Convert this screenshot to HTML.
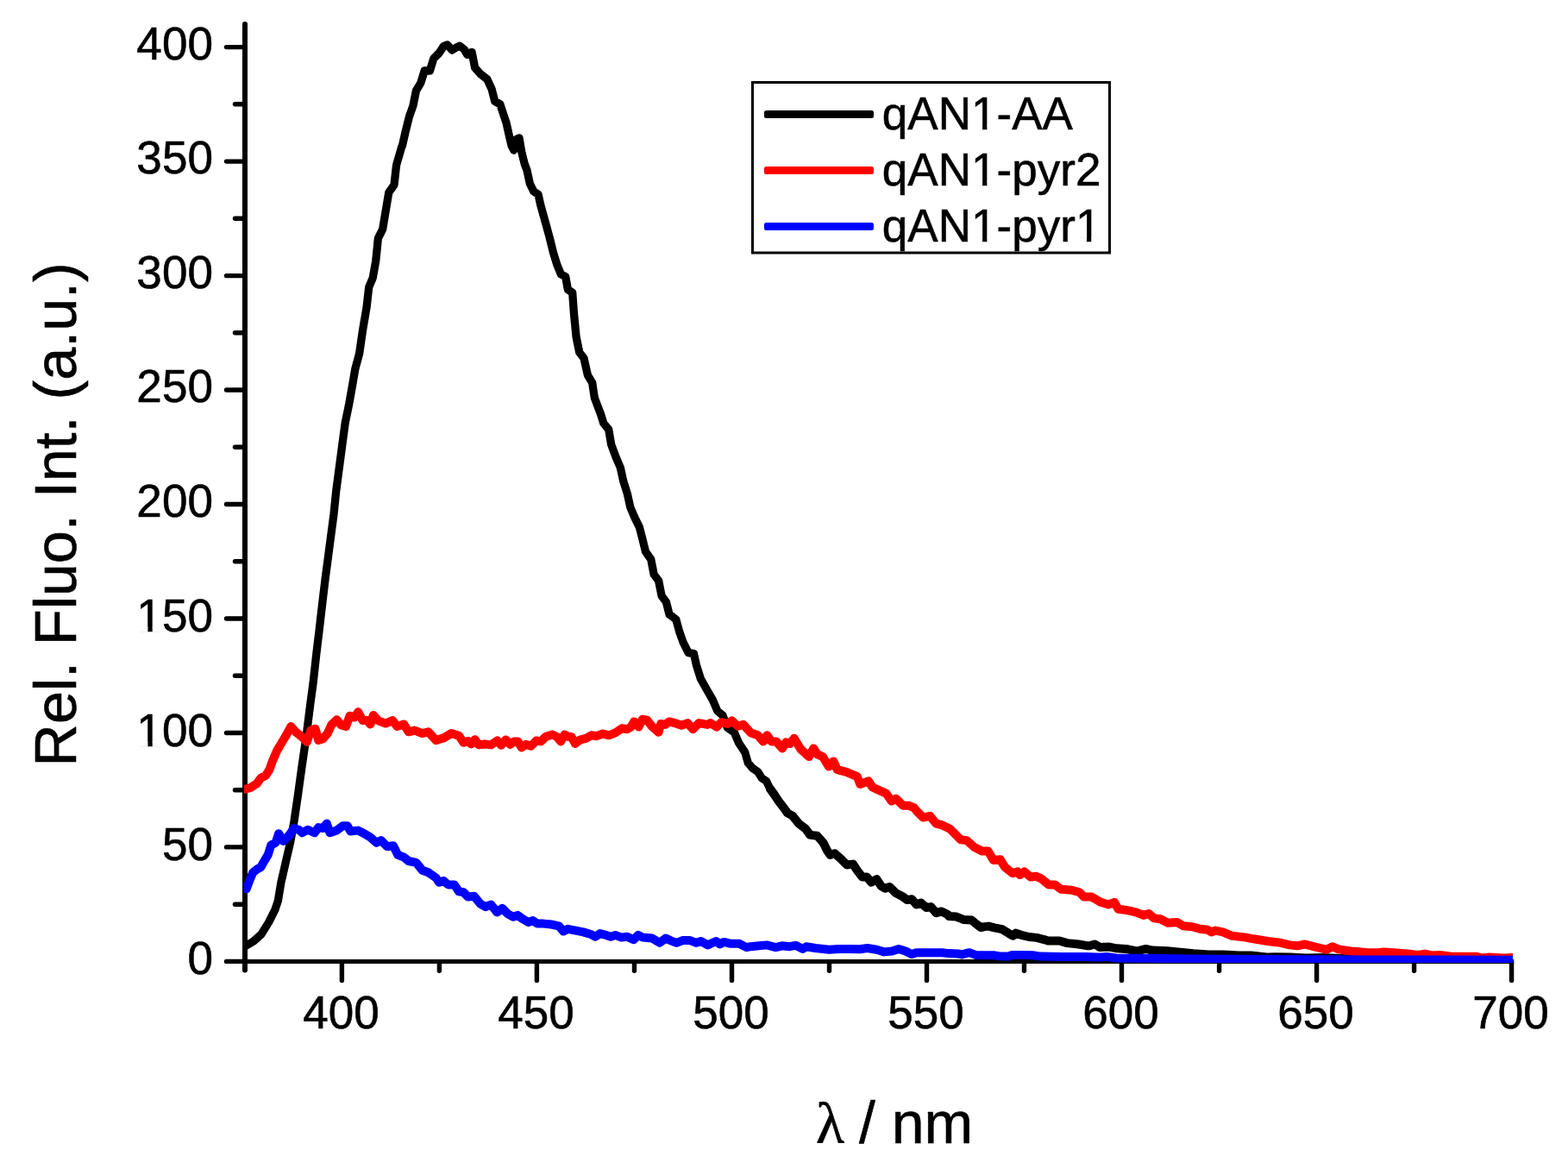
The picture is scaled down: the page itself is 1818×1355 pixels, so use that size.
<!DOCTYPE html>
<html lang="en"><head><meta charset="utf-8">
<style>
html,body{margin:0;padding:0;background:#fff;}
body{width:1818px;height:1355px;overflow:hidden;}
svg{display:block;}
text{font-family:"Liberation Sans",Arial,Helvetica,sans-serif;fill:#000;stroke:#000;stroke-width:0.6px;stroke-linejoin:round;}
.tk{font-size:53.33px;}
.tt{font-size:68px;}
.sym{font-family:"Liberation Serif","DejaVu Serif",serif;}
</style></head>
<body>
<svg width="1818" height="1355" viewBox="0 0 1818 1355">
<rect x="0" y="0" width="1818" height="1355" fill="#fff"/>
<g stroke="#000" fill="none" stroke-linecap="round">
<line x1="284.0" y1="28" x2="284.0" y2="1124.5" stroke-width="6"/>
<line x1="284.0" y1="1114.4" x2="1755.1" y2="1114.4" stroke-width="5" stroke-linecap="butt"/>
<line x1="262.5" y1="1114.4" x2="284.0" y2="1114.4" stroke-width="5.4"/>
<line x1="272.5" y1="1048.2" x2="284.0" y2="1048.2" stroke-width="5.4"/>
<line x1="262.5" y1="981.9" x2="284.0" y2="981.9" stroke-width="5.4"/>
<line x1="272.5" y1="915.7" x2="284.0" y2="915.7" stroke-width="5.4"/>
<line x1="262.5" y1="849.5" x2="284.0" y2="849.5" stroke-width="5.4"/>
<line x1="272.5" y1="783.2" x2="284.0" y2="783.2" stroke-width="5.4"/>
<line x1="262.5" y1="717.0" x2="284.0" y2="717.0" stroke-width="5.4"/>
<line x1="272.5" y1="650.7" x2="284.0" y2="650.7" stroke-width="5.4"/>
<line x1="262.5" y1="584.5" x2="284.0" y2="584.5" stroke-width="5.4"/>
<line x1="272.5" y1="518.3" x2="284.0" y2="518.3" stroke-width="5.4"/>
<line x1="262.5" y1="452.0" x2="284.0" y2="452.0" stroke-width="5.4"/>
<line x1="272.5" y1="385.8" x2="284.0" y2="385.8" stroke-width="5.4"/>
<line x1="262.5" y1="319.6" x2="284.0" y2="319.6" stroke-width="5.4"/>
<line x1="272.5" y1="253.3" x2="284.0" y2="253.3" stroke-width="5.4"/>
<line x1="262.5" y1="187.1" x2="284.0" y2="187.1" stroke-width="5.4"/>
<line x1="272.5" y1="120.8" x2="284.0" y2="120.8" stroke-width="5.4"/>
<line x1="262.5" y1="54.6" x2="284.0" y2="54.6" stroke-width="5.4"/>
<line x1="396.4" y1="1114.9" x2="396.4" y2="1136.5" stroke-width="5.4"/>
<line x1="509.4" y1="1114.9" x2="509.4" y2="1125.3" stroke-width="5.4"/>
<line x1="622.4" y1="1114.9" x2="622.4" y2="1136.5" stroke-width="5.4"/>
<line x1="735.5" y1="1114.9" x2="735.5" y2="1125.3" stroke-width="5.4"/>
<line x1="848.5" y1="1114.9" x2="848.5" y2="1136.5" stroke-width="5.4"/>
<line x1="961.5" y1="1114.9" x2="961.5" y2="1125.3" stroke-width="5.4"/>
<line x1="1074.5" y1="1114.9" x2="1074.5" y2="1136.5" stroke-width="5.4"/>
<line x1="1187.5" y1="1114.9" x2="1187.5" y2="1125.3" stroke-width="5.4"/>
<line x1="1300.5" y1="1114.9" x2="1300.5" y2="1136.5" stroke-width="5.4"/>
<line x1="1413.6" y1="1114.9" x2="1413.6" y2="1125.3" stroke-width="5.4"/>
<line x1="1526.6" y1="1114.9" x2="1526.6" y2="1136.5" stroke-width="5.4"/>
<line x1="1639.6" y1="1114.9" x2="1639.6" y2="1125.3" stroke-width="5.4"/>
<line x1="1752.6" y1="1114.9" x2="1752.6" y2="1136.5" stroke-width="5.4"/>
</g>
<defs><clipPath id="plot"><rect x="283.0" y="0" width="1471.0" height="1115.9"/></clipPath></defs>
<g fill="none" stroke-linejoin="round" stroke-linecap="round" clip-path="url(#plot)">
<path stroke="#000000" stroke-width="9.3" d="M285.2 1096.3 L294.0 1091.0 L302.9 1083.0 L311.7 1068.9 L318.8 1054.7 L322.4 1044.1 L325.9 1022.8 L331.2 999.8 L336.5 976.8 L341.0 952.0 L345.4 921.9 L349.8 890.0 L355.1 853.7 L359.5 818.2 L363.1 791.7 L366.6 759.8 L370.2 729.7 L373.7 699.6 L377.3 669.5 L379.9 650.0 L383.5 622.5 L387.0 596.0 L389.7 569.4 L393.2 542.8 L396.7 516.3 L400.3 489.7 L404.7 468.4 L408.8 445.4 L411.8 427.7 L416.6 410.0 L420.6 382.5 L425.1 356.0 L427.7 332.9 L432.2 322.3 L435.7 302.8 L438.4 276.3 L443.7 265.6 L447.2 244.4 L450.8 223.1 L457.0 214.3 L459.6 191.3 L465.8 170.0 L466.5 168.8 L470.1 152.8 L474.5 135.1 L478.9 122.7 L482.5 105.0 L487.8 96.2 L492.2 82.0 L498.4 82.0 L502.8 67.8 L509.0 61.6 L514.3 53.6 L518.8 51.9 L524.1 58.1 L528.5 55.4 L532.9 53.3 L538.2 57.2 L541.8 63.4 L547.1 60.4 L550.6 78.4 L556.8 85.5 L564.8 91.7 L570.1 103.2 L573.7 117.4 L579.9 120.9 L583.4 131.6 L587.0 142.2 L590.5 158.1 L593.1 168.8 L595.8 174.1 L598.5 161.7 L602.0 159.9 L604.7 175.8 L608.2 190.0 L610.9 197.1 L614.4 213.0 L618.8 221.9 L624.1 225.4 L626.8 237.8 L633.0 260.0 L637.2 275.4 L641.6 293.1 L646.0 307.3 L650.4 317.9 L655.7 320.6 L658.4 335.6 L663.7 339.2 L665.5 364.0 L668.1 390.5 L671.7 408.2 L677.0 415.3 L681.4 434.8 L686.7 443.7 L689.4 461.4 L696.5 480.0 L699.8 490.6 L705.7 497.7 L708.7 515.4 L714.0 529.6 L719.3 542.0 L722.8 557.9 L727.3 572.1 L730.8 588.0 L736.1 600.4 L741.4 611.1 L745.0 625.2 L748.5 639.4 L754.7 648.2 L758.2 666.0 L763.6 673.0 L767.1 690.7 L772.4 697.8 L776.0 712.0 L783.9 718.2 L787.6 731.9 L792.0 744.3 L798.2 756.7 L804.4 757.6 L807.4 770.8 L812.4 786.8 L819.4 799.2 L826.5 811.6 L831.8 824.0 L838.0 829.3 L843.3 843.4 L851.3 848.8 L856.6 861.2 L863.7 871.8 L867.3 884.2 L872.6 890.4 L878.8 894.8 L883.2 901.9 L888.5 905.4 L892.9 914.3 L897.4 920.5"/>
<path stroke="#000000" stroke-width="10" d="M892.9 914.3 L897.4 920.5 L902.7 928.5 L911.5 940.0 L912.9 942.2 L919.1 945.8 L926.2 954.6 L934.1 960.8 L939.4 967.9 L947.4 968.8 L954.5 976.8 L958.9 985.6 L962.5 990.9 L967.8 989.2 L974.9 995.4 L981.9 1002.5 L989.0 1001.6 L994.3 1009.5 L999.7 1016.5 L1005.0 1016.5 L1010.3 1022.7 L1016.5 1019.2 L1021.8 1027.2 L1026.2 1029.8 L1031.5 1028.0 L1038.6 1035.1 L1045.7 1038.7 L1051.9 1043.1 L1057.2 1042.2 L1062.5 1048.4 L1067.8 1046.6 L1074.0 1052.0 L1079.3 1051.1 L1085.5 1058.2 L1091.7 1056.4 L1098.8 1059.9 L1100.0 1061.9 L1108.9 1062.6 L1117.7 1066.1 L1126.6 1066.6 L1131.9 1071.0 L1137.2 1075.0 L1141.6 1074.1 L1146.0 1073.6 L1153.1 1075.4 L1162.0 1077.2 L1169.1 1081.6 L1174.4 1084.7 L1177.9 1081.6 L1184.1 1083.8 L1193.0 1086.0 L1201.8 1086.9 L1210.7 1089.1 L1215.1 1090.5 L1228.4 1090.5 L1237.2 1093.1 L1250.5 1094.5 L1260.0 1096.2 L1263.1 1096.3 L1269.3 1094.5 L1275.5 1098.1 L1286.1 1097.6 L1295.0 1099.3 L1305.6 1099.9 L1318.0 1102.5 L1328.6 1099.9 L1335.7 1101.6 L1353.4 1102.2 L1365.8 1103.4 L1383.5 1105.2 L1401.2 1106.4 L1418.9 1106.4 L1436.6 1107.5 L1450.8 1107.5 L1471.0 1109.6 L1478.7 1109.2 L1496.4 1109.6 L1514.1 1110.5 L1531.8 1110.1 L1567.3 1111.4 L1638.1 1112.3 L1753.2 1112.8 L1762.0 1112.8"/>
<path stroke="#ff0000" stroke-width="10" d="M284.2 914.8 L290.4 913.0 L297.4 908.6 L302.8 901.5 L308.1 898.9 L312.5 891.8 L316.0 882.0 L321.4 869.6 L326.7 860.7 L332.0 851.9 L337.3 842.1 L342.6 848.3 L349.7 853.7 L355.9 859.9 L360.3 846.6 L365.6 844.8 L369.2 858.1 L374.5 856.3 L379.8 850.1 L384.2 840.4 L390.4 834.2 L395.7 840.4 L401.1 842.1 L405.5 829.8 L410.8 831.5 L415.2 825.3 L420.5 835.1 L425.8 835.1 L429.4 839.5 L432.9 828.9 L438.2 835.1 L447.1 838.6 L455.1 835.1 L460.4 842.1 L468.3 839.5 L473.7 848.3 L480.7 846.6 L489.6 850.1 L496.7 848.3 L505.5 858.1 L514.4 855.4 L523.2 850.1 L532.1 852.8 L537.4 860.7 L542.7 859.0 L546.3 862.5 L550.7 857.2 L555.1 863.4 L562.2 862.5 L569.3 863.4 L576.7 858.5 L581.1 863.8 L586.4 857.6 L591.7 862.9 L596.2 859.4 L600.6 859.4 L604.7 866.5 L609.4 862.9 L615.6 864.7 L621.8 858.5 L627.1 859.4 L632.5 854.1 L640.4 851.4 L645.7 854.1 L650.2 859.4 L654.6 851.4 L659.0 854.1 L662.6 854.1 L667.0 862.0 L672.3 857.6 L679.4 855.8 L685.6 852.3 L691.8 853.2 L698.9 850.5 L706.0 852.3 L713.0 849.6 L721.0 844.3 L727.2 845.2 L731.6 842.6 L735.2 836.4 L740.5 842.6 L744.9 833.7 L750.2 834.6 L756.4 842.6 L763.5 848.8 L766.2 839.0 L771.5 839.9 L775.9 836.4 L782.1 838.1 L790.1 840.8 L797.2 838.1 L803.4 845.2 L810.4 838.1 L820.0 839.9 L823.8 838.1 L830.8 842.6 L836.2 837.2 L843.2 839.0 L848.5 835.5 L855.6 841.7 L861.8 839.9 L870.7 849.6 L878.7 852.3 L884.9 859.4 L889.3 852.3 L894.6 859.4 L899.9 859.4 L907.0 867.4 L911.4 860.3 L915.8 862.0 L920.8 855.8 L928.2 868.2 L938.0 877.1 L943.3 867.4 L947.7 874.4 L953.9 877.1 L961.0 888.6 L966.3 882.4 L970.7 892.1 L981.4 894.8 L993.8 900.1 L997.3 909.0 L1007.0 905.4 L1011.5 912.5 L1019.4 916.1 L1027.4 919.6 L1033.6 928.5 L1038.9 925.8 L1046.9 933.8 L1054.0 933.8 L1060.0 936.4 L1062.4 939.6 L1070.4 947.6 L1078.3 945.8 L1085.4 954.6 L1092.5 956.4 L1101.4 960.8 L1113.8 973.2 L1120.9 974.1 L1129.7 982.1 L1138.6 986.5 L1145.6 986.5 L1151.8 997.1 L1159.8 996.3 L1165.1 1005.1 L1174.0 1012.2 L1180.0 1010.4 L1182.4 1014.0 L1187.7 1010.4 L1194.8 1016.6 L1201.0 1015.7 L1207.2 1018.4 L1216.0 1025.5 L1223.1 1025.5 L1230.2 1030.8 L1242.6 1031.7 L1251.5 1034.3 L1256.8 1039.6 L1265.6 1039.6 L1276.3 1045.8 L1285.1 1048.5 L1292.2 1045.8 L1296.6 1053.8 L1304.6 1054.7 L1317.0 1057.4 L1325.8 1060.9 L1332.0 1059.1 L1338.2 1064.4 L1345.3 1065.3 L1354.2 1069.8 L1364.8 1068.9 L1371.9 1073.3 L1382.5 1074.2 L1391.4 1076.8 L1400.2 1077.7 L1404.7 1080.4 L1409.1 1078.6 L1417.9 1080.4 L1428.6 1084.8 L1444.5 1086.6 L1453.4 1088.3 L1470.0 1091.0 L1484.8 1092.8 L1495.4 1095.4 L1504.3 1096.3 L1513.1 1094.5 L1522.0 1096.8 L1530.8 1099.0 L1537.9 1100.7 L1545.0 1097.2 L1552.1 1100.4 L1566.3 1102.5 L1584.0 1103.9 L1598.1 1104.3 L1605.2 1103.4 L1619.4 1104.6 L1637.1 1106.1 L1644.2 1106.9 L1652.1 1105.7 L1660.1 1107.5 L1669.0 1106.9 L1681.4 1108.4 L1699.1 1108.7 L1711.5 1108.7 L1718.6 1110.5 L1725.6 1109.6 L1743.4 1110.5 L1752.2 1110.1 L1762.0 1110.1"/>
<path stroke="#0000ff" stroke-width="10" d="M285.6 1030.4 L289.5 1020.3 L293.2 1011.3 L297.8 1007.6 L302.5 1005.0 L305.4 999.8 L310.7 990.9 L314.3 979.4 L319.6 976.8 L323.1 966.2 L328.4 975.0 L335.5 967.9 L340.8 960.0 L346.2 961.7 L350.6 965.3 L356.8 961.7 L364.7 965.3 L369.2 959.1 L374.5 960.0 L378.9 954.6 L382.5 965.3 L390.4 962.6 L397.5 957.3 L402.8 957.3 L406.4 963.5 L415.2 962.6 L422.3 966.2 L429.4 970.6 L436.5 976.8 L441.8 974.1 L448.9 981.2 L456.0 980.3 L461.3 990.9 L468.3 993.6 L473.7 998.0 L482.5 999.8 L489.6 1008.7 L496.7 1011.3 L505.5 1017.5 L509.1 1022.8 L514.4 1021.1 L519.7 1025.5 L526.8 1025.5 L532.1 1033.4 L537.4 1034.3 L542.7 1039.6 L549.8 1038.8 L556.9 1047.6 L563.1 1051.2 L569.3 1048.5 L576.2 1057.4 L582.4 1052.9 L588.6 1059.1 L594.8 1062.7 L600.1 1060.9 L606.3 1065.3 L612.5 1068.9 L617.8 1067.1 L623.1 1070.6 L630.2 1070.6 L639.1 1071.5 L647.9 1073.3 L653.2 1079.5 L658.5 1076.8 L667.4 1078.6 L676.3 1080.4 L685.1 1083.0 L690.4 1085.7 L695.7 1082.1 L702.8 1083.9 L708.1 1085.7 L713.4 1083.9 L720.5 1086.6 L726.7 1085.7 L734.7 1089.2 L740.0 1083.9 L745.3 1086.6 L756.0 1087.5 L764.8 1092.8 L771.9 1087.5 L777.2 1090.1 L784.3 1092.8 L791.4 1090.1 L800.2 1090.1 L807.3 1092.8 L812.6 1091.0 L820.6 1095.4 L830.3 1091.0 L834.8 1094.5 L839.2 1091.9 L846.3 1093.7 L856.9 1093.7 L865.7 1098.1 L870.0 1097.2 L880.0 1096.3 L888.9 1095.4 L899.5 1098.1 L906.6 1096.3 L915.4 1097.2 L922.5 1095.8 L930.5 1099.9 L934.9 1097.2 L945.5 1099.0 L961.5 1100.7 L972.1 1099.9 L986.3 1099.9 L996.9 1100.2 L1005.7 1099.0 L1016.4 1100.7 L1025.2 1103.4 L1034.1 1102.5 L1042.0 1099.9 L1050.0 1102.5 L1057.1 1106.1 L1062.4 1104.3 L1074.8 1104.3 L1092.5 1104.3 L1100.0 1105.1 L1110.6 1105.5 L1115.1 1106.4 L1123.9 1104.2 L1131.0 1106.9 L1153.1 1107.3 L1157.6 1108.2 L1169.1 1108.6 L1173.5 1107.1 L1188.5 1107.1 L1197.4 1107.3 L1206.3 1108.6 L1232.8 1108.9 L1260.0 1109.1 L1276.3 1109.6 L1283.3 1108.9 L1294.0 1110.5 L1311.7 1110.8 L1347.1 1111.0 L1382.5 1111.4 L1417.9 1111.7 L1470.0 1112.1 L1530.8 1112.3 L1601.7 1112.4 L1672.5 1112.6 L1752.2 1112.8 L1762.0 1112.8"/>
</g>
<rect x="872.5" y="95.5" width="414" height="197.5" fill="#fff" stroke="#000" stroke-width="3"/>
<rect x="886" y="128" width="127" height="9" rx="2.5" ry="2.5" fill="#000000"/>
<rect x="886" y="193" width="127" height="9" rx="2.5" ry="2.5" fill="#ff0000"/>
<rect x="886" y="258" width="127" height="9" rx="2.5" ry="2.5" fill="#0000ff"/>
<g transform="translate(1022.80 150.20) scale(0.995 1)"><text class="tk">qAN1-AA</text><rect x="106.76" y="-5.29" width="10.09" height="6.07" fill="#fff"/><rect x="122.17" y="-5.29" width="9.67" height="6.07" fill="#fff"/></g>
<g transform="translate(1022.80 215.10) scale(0.995 1)"><text class="tk">qAN1-pyr2</text><rect x="106.76" y="-5.29" width="10.09" height="6.07" fill="#fff"/><rect x="122.17" y="-5.29" width="9.67" height="6.07" fill="#fff"/></g>
<g transform="translate(1022.80 280.40) scale(0.995 1)"><text class="tk">qAN1-pyr1</text><rect x="106.76" y="-5.29" width="10.09" height="6.07" fill="#fff"/><rect x="122.17" y="-5.29" width="9.67" height="6.07" fill="#fff"/><rect x="228.27" y="-5.29" width="10.09" height="6.07" fill="#fff"/><rect x="243.67" y="-5.29" width="9.67" height="6.07" fill="#fff"/></g>
<text class="tk" text-anchor="end" transform="translate(246.90 1129.00) scale(0.995 1)">0</text>
<text class="tk" text-anchor="end" transform="translate(246.90 997.00) scale(0.995 1)">50</text>
<g transform="translate(246.90 865.00) scale(0.995 1)"><text class="tk" text-anchor="end">100</text><rect x="-85.96" y="-5.29" width="10.09" height="6.07" fill="#fff"/><rect x="-70.55" y="-5.29" width="9.67" height="6.07" fill="#fff"/></g>
<g transform="translate(246.90 732.00) scale(0.995 1)"><text class="tk" text-anchor="end">150</text><rect x="-85.96" y="-5.29" width="10.09" height="6.07" fill="#fff"/><rect x="-70.55" y="-5.29" width="9.67" height="6.07" fill="#fff"/></g>
<text class="tk" text-anchor="end" transform="translate(246.90 599.00) scale(0.995 1)">200</text>
<text class="tk" text-anchor="end" transform="translate(246.90 466.00) scale(0.995 1)">250</text>
<text class="tk" text-anchor="end" transform="translate(246.90 334.00) scale(0.995 1)">300</text>
<text class="tk" text-anchor="end" transform="translate(246.90 201.00) scale(0.995 1)">350</text>
<text class="tk" text-anchor="end" transform="translate(246.90 69.00) scale(0.995 1)">400</text>
<text class="tk" text-anchor="middle" transform="translate(395.40 1192.00) scale(0.995 1)">400</text>
<text class="tk" text-anchor="middle" transform="translate(621.43 1192.00) scale(0.995 1)">450</text>
<text class="tk" text-anchor="middle" transform="translate(847.47 1192.00) scale(0.995 1)">500</text>
<text class="tk" text-anchor="middle" transform="translate(1073.50 1192.00) scale(0.995 1)">550</text>
<text class="tk" text-anchor="middle" transform="translate(1299.54 1192.00) scale(0.995 1)">600</text>
<text class="tk" text-anchor="middle" transform="translate(1525.57 1192.00) scale(0.995 1)">650</text>
<text class="tk" text-anchor="middle" transform="translate(1751.61 1192.00) scale(0.995 1)">700</text>
<text class="tt" transform="translate(87.80 888.40) rotate(-90) scale(1.004 1)">Rel. Fluo. Int. (a.u.)</text>
<text class="tt" x="946" y="1325"><tspan class="sym">λ</tspan><tspan dx="-1.9"> / nm</tspan></text>
</svg>
</body></html>
